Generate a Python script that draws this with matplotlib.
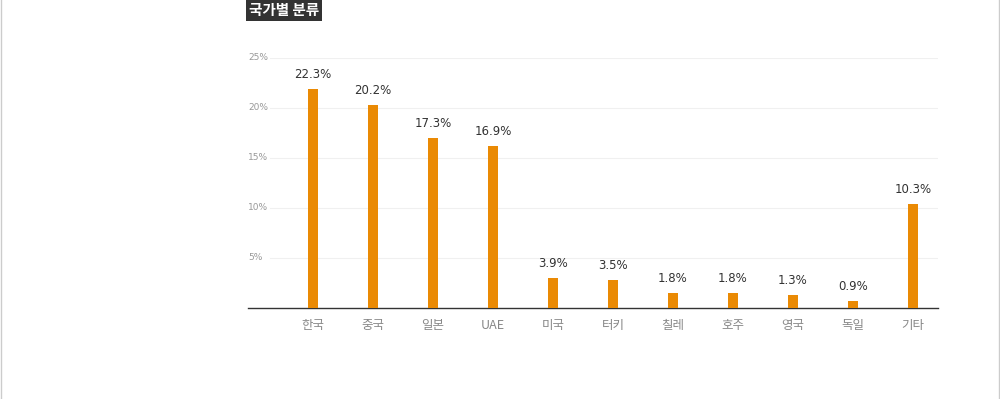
import matplotlib.pyplot as plt
from matplotlib.lines import Line2D

plt.rcParams['font.family'] = ['Noto Sans CJK KR', 'DejaVu Sans']

countries = ['한국', '중국', '일본', 'UAE', '미국', '터키', '칠레', '호주', '영국', '독일', '기타']
heights = [21.9, 20.3, 17.0, 16.2, 3.0, 2.8, 1.5, 1.5, 1.3, 0.7, 10.4]
labels = ['22.3%', '20.2%', '17.3%', '16.9%', '3.9%', '3.5%', '1.8%', '1.8%', '1.3%', '0.9%', '10.3%']
yticks = [5, 10, 15, 20, 25]

fig = plt.figure(figsize=(10, 3.99), dpi=100)
ax = fig.add_axes([0.248, 1 - 308 / 399, 0.69, (308 - 58) / 399])

x = range(len(countries))
ax.bar(x, heights, width=0.167, color='#ea8a04', zorder=3)
for xi, h, lab in zip(x, heights, labels):
    ax.annotate(lab, (xi, h), xytext=(0, 6), textcoords='offset points',
                ha='center', va='bottom', fontsize=8.5, color='#333333',
                family='DejaVu Sans', annotation_clip=False)

ax.set_xlim(-1.083, 10.417)
ax.set_ylim(0, 25)
for t in yticks:
    ax.axhline(t, xmin=0.032, xmax=1, color='#f0f0f0', lw=0.8, zorder=1)
    ax.text(0, t, f'{t}%', transform=ax.get_yaxis_transform(), ha='left',
            va='center', fontsize=6.5, color='#999999', family='DejaVu Sans')

ax.set_yticks([])
ax.set_xticks(list(x))
ax.set_xticklabels(countries, fontsize=9, color='#888888')
ax.tick_params(axis='x', length=0, pad=8)
for s in ['top', 'right', 'left']:
    ax.spines[s].set_visible(False)
ax.spines['bottom'].set_color('#333333')
ax.spines['bottom'].set_linewidth(1)

fig.text(0.249, 1 - 10 / 399, '국가별 분류', ha='left', va='center', fontsize=10.5,
         color='white', fontweight='bold',
         bbox=dict(boxstyle='square,pad=0.2', fc='#333333', ec='none'))

fig.add_artist(Line2D([0.0005, 0.0005], [0, 1], color='#cccccc', lw=1, transform=fig.transFigure))
fig.add_artist(Line2D([0.9985, 0.9985], [0, 1], color='#cccccc', lw=1, transform=fig.transFigure))

fig.savefig('out.png', dpi=100)
